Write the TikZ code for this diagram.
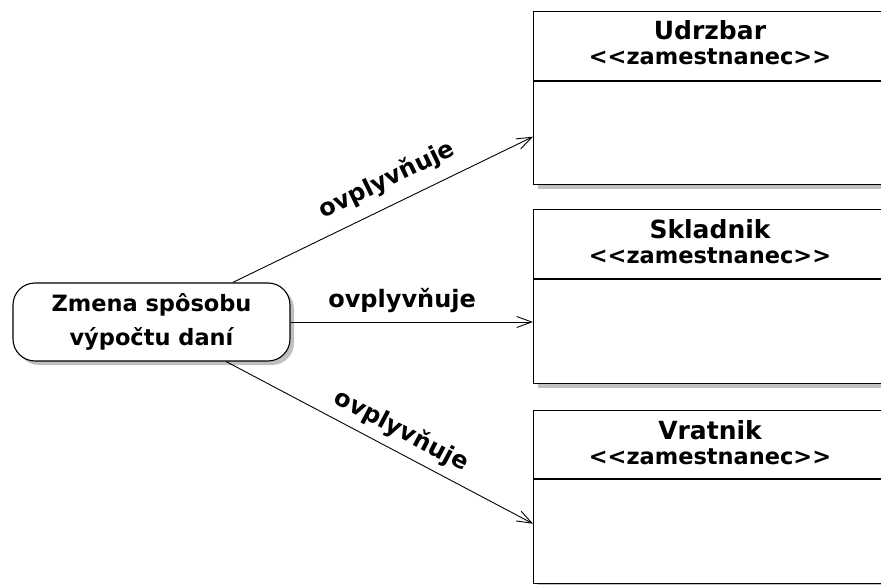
\documentclass[tikz,border=0pt]{standalone}
\usepackage{fontspec}
\setmainfont{DejaVu Sans}
\usetikzlibrary{arrows.meta}

\begin{document}
\begin{tikzpicture}[x=1pt, y=-1pt,
  shadowfill/.style={fill=black!25, draw=none},
  classbox/.style={draw, line width=1.4pt, fill=white, rectangle,
    anchor=north west, minimum width=380pt, inner sep=0pt},
  sepline/.style={line width=1.4pt},
  classname/.style={font=\fontsize{25}{30}\selectfont\bfseries, inner sep=0pt},
  stereo/.style={font=\fontsize{22.5}{27}\selectfont\bfseries, inner sep=0pt},
  usecase/.style={draw, line width=1.1pt, fill=white, rounded corners=22pt,
    minimum width=277pt, minimum height=78pt, align=center, inner sep=0pt,
    font=\fontsize{22.5}{34}\selectfont\bfseries},
  dep/.style={line width=0.9pt, -{Straight Barb[length=15pt, width=11pt, line width=0.9pt]}},
  lbl/.style={font=\fontsize{24}{28}\selectfont\bfseries, inner sep=0pt}
]
\clip (0,0) rectangle (881,585);
\fill[white] (0,0) rectangle (881,585);

% shadows of the class boxes and of the use case
\fill[shadowfill] (538,15) rectangle (920,189);
\fill[shadowfill] (538,213) rectangle (920,388);
\fill[shadowfill] (538,414) rectangle (920,590);
\fill[shadowfill, rounded corners=22pt] (17,287) rectangle (294,365);

% class: Udrzbar
\node[classbox, minimum height=173pt] (udrzbar) at (533,11) {};
\draw[sepline] (533,81) -- (915,81);
\node[classname] (udrzbar-name) at (710,30) {Udrzbar};
\node[stereo] (udrzbar-st) at (710,57) {{<}{<}zamestnanec{>}{>}};

% class: Skladnik
\node[classbox, minimum height=174pt] (skladnik) at (533,209) {};
\draw[sepline] (533,279) -- (915,279);
\node[classname] (skladnik-name) at (710,229) {Skladnik};
\node[stereo] (skladnik-st) at (710,256) {{<}{<}zamestnanec{>}{>}};

% class: Vratnik
\node[classbox, minimum height=173pt] (vratnik) at (533,410) {};
\draw[sepline] (533,479) -- (915,479);
\node[classname] (vratnik-name) at (710,430) {Vratnik};
\node[stereo] (vratnik-st) at (710,457) {{<}{<}zamestnanec{>}{>}};

% use case
\node[usecase] (uc) at (151.5,322) {Zmena spôsobu\\výpočtu daní};

% dependencies
\draw[dep] (uc) -- ([yshift=-38.5pt]udrzbar.west)
  node[lbl, sloped, above=12pt, pos=0.55] {ovplyvňuje};
\draw[dep] (uc.east) -- (uc.east -| skladnik.west)
  node[lbl, above=9pt, pos=0.46] {ovplyvňuje};
\draw[dep] (uc) -- ([yshift=-26.5pt]vratnik.west)
  node[lbl, sloped, above=8pt, pos=0.54] {ovplyvňuje};
\end{tikzpicture}
\end{document}
